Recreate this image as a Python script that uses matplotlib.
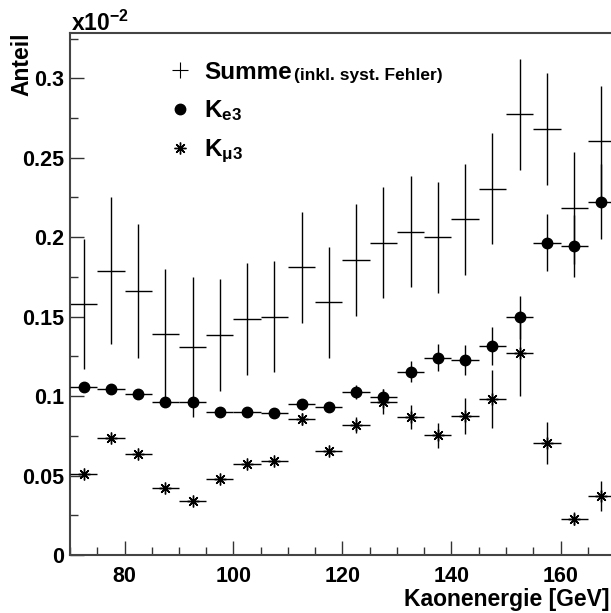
import matplotlib
matplotlib.use("Agg")
import matplotlib.pyplot as plt
import numpy as np
from matplotlib.lines import Line2D
from matplotlib.ticker import MultipleLocator, FuncFormatter

plt.rcParams["font.family"] = ["Liberation Sans", "DejaVu Sans"]
plt.rcParams["font.weight"] = "bold"
plt.rcParams["mathtext.fontset"] = "custom"
plt.rcParams["mathtext.rm"] = "Liberation Sans:bold"
plt.rcParams["mathtext.bf"] = "Liberation Sans:bold"
plt.rcParams["mathtext.it"] = "Liberation Sans:bold"

# bin centres (GeV), 5 GeV bins
energy = np.arange(72.5, 170, 5.0)
bin_half = 2.5

# values in units of 1e-2
summe = [0.158, 0.179, 0.166, 0.139, 0.131, 0.1385, 0.1485, 0.150, 0.181, 0.159,
         0.1857, 0.1965, 0.2035, 0.200, 0.2113, 0.2305, 0.2773, 0.2681, 0.2184, 0.2603]
summe_err = [0.041, 0.046, 0.042, 0.041, 0.044, 0.035, 0.035, 0.035, 0.035, 0.035,
             0.035, 0.035, 0.035, 0.035, 0.035, 0.035, 0.035, 0.035, 0.035, 0.035]

ke3 = [0.1059, 0.1043, 0.1015, 0.0965, 0.0961, 0.0898, 0.0900, 0.0896, 0.0948, 0.0929,
       0.1026, 0.0992, 0.1154, 0.1240, 0.1227, 0.1315, 0.1496, 0.1965, 0.1947, 0.2223]
ke3_err = [0.002, 0.002, 0.002, 0.002, 0.002, 0.002, 0.002, 0.002, 0.0034, 0.003,
           0.0045, 0.005, 0.0067, 0.0085, 0.0095, 0.0118, 0.0134, 0.018, 0.0195, 0.0237]

kmu3 = [0.0512, 0.0734, 0.0636, 0.0420, 0.0340, 0.0476, 0.0575, 0.0594, 0.0854, 0.0653,
        0.0820, 0.0965, 0.0868, 0.0753, 0.0877, 0.0982, 0.1269, 0.0707, 0.0229, 0.0373]
kmu3_err = [0.0015, 0.0015, 0.0015, 0.0015, 0.0015, 0.0015, 0.0015, 0.0015, 0.0037, 0.002,
            0.005, 0.0079, 0.0075, 0.0079, 0.0113, 0.018, 0.0266, 0.0133, 0.0042, 0.0095]

labels = ["Summe", r"$\mathbf{K_{e3}}$", r"$\mathbf{K_{\mu 3}}$"]

W, H = 611, 613
fig = plt.figure(figsize=(W / 100, H / 100), dpi=100)
ax = fig.add_axes([70 / W, 1 - 555 / H, 545 / W, 522 / H])

star = (8, 2, 0)
ax.errorbar(energy, summe, yerr=summe_err, xerr=bin_half, fmt="none",
            ecolor="black", elinewidth=1.0, capsize=0, zorder=2)
ax.errorbar(energy, ke3, yerr=ke3_err, xerr=bin_half, fmt="o", color="black",
            ms=7.5, ecolor="black", elinewidth=1.0, capsize=0, zorder=3)
ax.errorbar(energy, kmu3, yerr=kmu3_err, xerr=bin_half, fmt="none",
            ecolor="black", elinewidth=1.0, capsize=0, zorder=3)
ax.plot(energy, kmu3, linestyle="none", marker=star, ms=8.5, mew=1.0,
        color="black", zorder=4)

ax.set_xlim(70, 170)
ax.set_ylim(0, 0.3285)
ax.xaxis.set_major_locator(MultipleLocator(20))
ax.xaxis.set_minor_locator(MultipleLocator(5))
ax.yaxis.set_major_locator(MultipleLocator(0.05))
ax.yaxis.set_minor_locator(MultipleLocator(0.025))
ax.yaxis.set_major_formatter(FuncFormatter(lambda v, p: f"{v:g}"))
ax.tick_params(which="both", direction="in", top=False, right=False,
               color="#333333", width=1.0, labelsize=15.5)
ax.tick_params(which="major", length=10)
ax.tick_params(which="minor", length=5.5)
ax.tick_params(axis="x", pad=8)
ax.tick_params(axis="y", pad=4)
for side in ["left", "bottom", "top", "right"]:
    ax.spines[side].set_color("#444444")
    ax.spines[side].set_linewidth(1.5)

# legend
handles = [
    Line2D([], [], linestyle="none", marker="+", ms=11, mew=0.8, color="black"),
    Line2D([], [], linestyle="none", marker="o", ms=7.5, color="black"),
    Line2D([], [], linestyle="none", marker=star, ms=8.5, mew=1.0, color="black"),
]
ax.legend(handles, labels, loc="upper left",
          bbox_to_anchor=((168 - 70) / 545, (555 - 61) / 522),
          frameon=False, fontsize=17.5, handlelength=0.95,
          handletextpad=0.55, labelspacing=0.6, borderpad=0,
          borderaxespad=0)
fig.text(294 / W, 1 - 80 / H, "(inkl. syst. Fehler)", ha="left", va="baseline",
         fontsize=12.5, fontweight="bold")

fig.text(71 / W, 1 - 31 / H, r"$\mathbf{x10^{-2}}$", ha="left", va="baseline",
         fontsize=16.5)
fig.text(22 / W, 1 - 33 / H, "Anteil", rotation=90, ha="center", va="top",
         fontsize=16.5, fontweight="bold")
fig.text(609 / W, 1 - 606 / H, "Kaonenergie [GeV]", ha="right", va="baseline",
         fontsize=16.5, fontweight="bold")

fig.savefig("out.png", dpi=100)
